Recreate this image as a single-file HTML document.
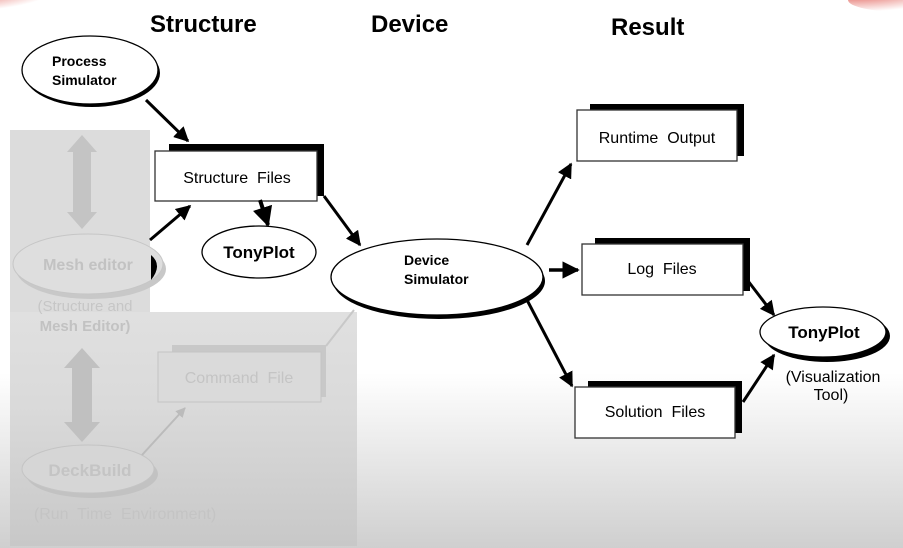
<!DOCTYPE html>
<html><head><meta charset="utf-8"><style>
html,body{margin:0;padding:0;background:#fff}
svg{display:block}
text{font-family:"Liberation Sans",Arial,sans-serif}
</style></head><body>
<svg width="903" height="548" viewBox="0 0 903 548" xmlns="http://www.w3.org/2000/svg">
<defs>
<linearGradient id="bg" x1="0" y1="0" x2="0" y2="1">
<stop offset="0" stop-color="#fff"/><stop offset="0.68" stop-color="#fff"/><stop offset="1" stop-color="#cfcfcf"/>
</linearGradient>
<linearGradient id="pan" x1="0" y1="0" x2="0" y2="1">
<stop offset="0" stop-color="#e0e0e0"/><stop offset="0.4" stop-color="#dadada"/><stop offset="1" stop-color="#c8c8c8"/>
</linearGradient>
<radialGradient id="rl" cx="0" cy="0" r="1"><stop offset="0" stop-color="#d9342a"/><stop offset="1" stop-color="#d9342a" stop-opacity="0"/></radialGradient>
<marker id="ah" viewBox="0 0 10 10" refX="9" refY="5" markerWidth="5" markerHeight="5" orient="auto"><path d="M0,0 L10,5 L0,10 z" fill="#000"/></marker>
<marker id="ag" viewBox="0 0 10 10" refX="9" refY="5" markerWidth="5" markerHeight="5" orient="auto"><path d="M0,0 L10,5 L0,10 z" fill="#bbb"/></marker>
</defs>
<rect width="903" height="548" fill="url(#bg)"/>
<ellipse cx="0" cy="0" rx="55" ry="12" fill="url(#rl)"/>
<ellipse cx="903" cy="0" rx="55" ry="12" fill="url(#rl)"/>

<text x="150" y="32" font-size="24" font-weight="bold">Structure</text>
<text x="371" y="32" font-size="24" font-weight="bold">Device</text>
<text x="611" y="35" font-size="24" font-weight="bold">Result</text>

<rect x="10" y="130" width="140" height="183" fill="#dcdcdc"/>
<rect x="10" y="312" width="347" height="234" fill="url(#pan)"/>
<path d="M82,135 L97,152 L91,152 L91,212 L97,212 L82,229 L67,212 L73,212 L73,152 L67,152 z" fill="#c4c4c4"/>
<ellipse cx="91" cy="269" rx="75" ry="30" fill="#c8c8c8"/>
<ellipse cx="88" cy="264" rx="75" ry="30" fill="#dedede" stroke="#c6c6c6"/>
<path d="M151,255 Q163,265 151,280 z" fill="#000"/>
<text x="88" y="270" font-size="16" font-weight="bold" fill="#c2c2c2" text-anchor="middle">Mesh editor</text>
<text x="85" y="311" font-size="15" fill="#c6c6c6" text-anchor="middle">(Structure and</text>
<text x="85" y="331" font-size="15" font-weight="bold" fill="#c2c2c2" text-anchor="middle">Mesh Editor)</text>
<path d="M82,348 L100,368 L92,368 L92,422 L100,422 L82,442 L64,422 L72,422 L72,368 L64,368 z" fill="#c0c0c0"/>
<rect x="172" y="345" width="154" height="52" fill="#c8c8c8"/>
<rect x="158" y="352" width="163" height="50" fill="#dadada" stroke="#c4c4c4"/>
<text x="239" y="383" font-size="16" fill="#c4c4c4" text-anchor="middle">Command&#160; File</text>
<line x1="326" y1="346" x2="354" y2="310" stroke="#c8c8c8" stroke-width="2"/>
<ellipse cx="92" cy="474" rx="66" ry="24" fill="#c2c2c2"/>
<ellipse cx="88" cy="469" rx="66" ry="24" fill="#d6d6d6" stroke="#c4c4c4"/>
<text x="90" y="476" font-size="17" font-weight="bold" fill="#c4c4c4" text-anchor="middle">DeckBuild</text>
<text x="125" y="519" font-size="16" fill="#c4c4c4" text-anchor="middle">(Run&#160; Time&#160; Environment)</text>
<line x1="142" y1="455" x2="185" y2="408" stroke="#bbb" stroke-width="2" marker-end="url(#ag)"/>

<ellipse cx="92" cy="73" rx="68" ry="34" fill="#000"/>
<ellipse cx="90" cy="70" rx="68" ry="34" fill="#fff" stroke="#000" stroke-width="1.3"/>
<text x="52" y="66" font-size="14" font-weight="bold">Process</text>
<text x="52" y="85" font-size="14" font-weight="bold">Simulator</text>
<line x1="146" y1="100" x2="188" y2="141" stroke="#000" stroke-width="3" marker-end="url(#ah)"/>

<rect x="169" y="144" width="155" height="52" fill="#000"/>
<rect x="155" y="151" width="162" height="50" fill="#fff" stroke="#333" stroke-width="1.3"/>
<text x="237" y="183" font-size="16" text-anchor="middle">Structure&#160; Files</text>
<line x1="150" y1="240" x2="190" y2="206" stroke="#000" stroke-width="3" marker-end="url(#ah)"/>
<line x1="260" y1="200" x2="268" y2="225" stroke="#000" stroke-width="4" marker-end="url(#ah)"/>
<ellipse cx="259" cy="252" rx="57" ry="26" fill="#fff" stroke="#000" stroke-width="1.3"/>
<text x="259" y="258" font-size="17" font-weight="bold" text-anchor="middle">TonyPlot</text>
<line x1="324" y1="196" x2="360" y2="245" stroke="#000" stroke-width="3" marker-end="url(#ah)"/>

<path d="M348,297 l12,-6 l2,10 z" fill="#000"/>
<ellipse cx="439" cy="281" rx="106" ry="38" fill="#000"/>
<ellipse cx="437" cy="277" rx="106" ry="38" fill="#fff" stroke="#000" stroke-width="1.3"/>
<text x="404" y="265" font-size="14" font-weight="bold">Device</text>
<text x="404" y="284" font-size="14" font-weight="bold">Simulator</text>
<line x1="527" y1="245" x2="571" y2="164" stroke="#000" stroke-width="3" marker-end="url(#ah)"/>
<line x1="549" y1="270" x2="578" y2="270" stroke="#000" stroke-width="3.5" marker-end="url(#ah)"/>
<line x1="527" y1="300" x2="572" y2="386" stroke="#000" stroke-width="3" marker-end="url(#ah)"/>

<rect x="590" y="104" width="154" height="52" fill="#000"/>
<rect x="577" y="110" width="160" height="51" fill="#fff" stroke="#333" stroke-width="1.3"/>
<text x="657" y="143" font-size="16" text-anchor="middle">Runtime&#160; Output</text>

<rect x="595" y="238" width="155" height="53" fill="#000"/>
<rect x="582" y="244" width="161" height="51" fill="#fff" stroke="#333" stroke-width="1.3"/>
<text x="662" y="274" font-size="16" text-anchor="middle">Log&#160; Files</text>

<rect x="588" y="381" width="154" height="52" fill="#000"/>
<rect x="575" y="387" width="160" height="51" fill="#fff" stroke="#333" stroke-width="1.3"/>
<text x="655" y="417" font-size="16" text-anchor="middle">Solution&#160; Files</text>

<line x1="745" y1="277" x2="774" y2="315" stroke="#000" stroke-width="3" marker-end="url(#ah)"/>
<line x1="743" y1="402" x2="774" y2="355" stroke="#000" stroke-width="3" marker-end="url(#ah)"/>
<ellipse cx="827" cy="336" rx="63" ry="26" fill="#000"/>
<ellipse cx="823" cy="332" rx="63" ry="25" fill="#fff" stroke="#000" stroke-width="1.3"/>
<text x="824" y="338" font-size="17" font-weight="bold" text-anchor="middle">TonyPlot</text>
<text x="833" y="382" font-size="16" text-anchor="middle">(Visualization</text>
<text x="831" y="400" font-size="16" text-anchor="middle">Tool)</text>
</svg>
</body></html>
